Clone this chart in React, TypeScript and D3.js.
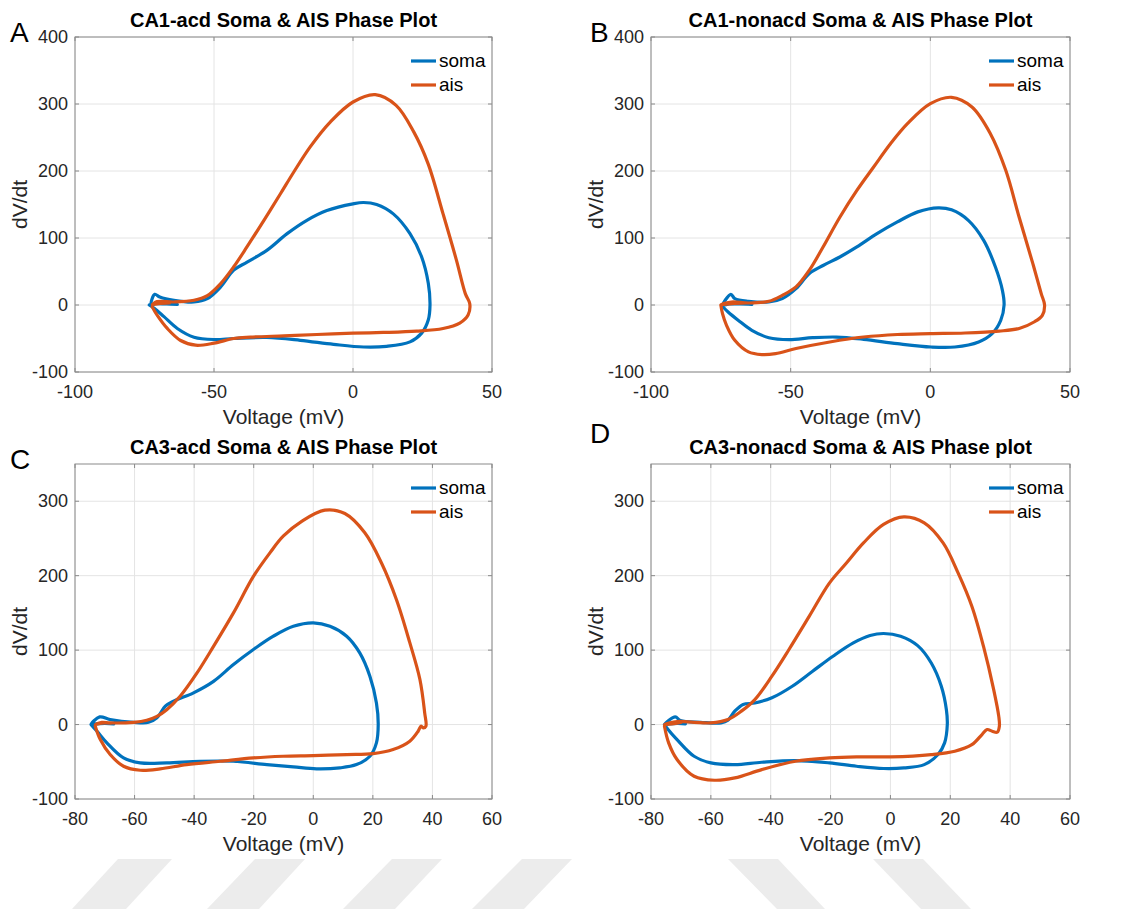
import React from 'react';
import * as d3 from 'd3';

// phase plots: [voltage (mV), dV/dt]
const ca1AcdSoma: [number, number][] = [
  [-63.2, 1], [-67, 1.5], [-71, 2], [-72.6, 1], [-71.3, 16], [-69.5, 12], [-64.4, 7], [-57.2, 4.5],
  [-52.4, 9.5], [-47.6, 27], [-42.9, 52], [-38.1, 64], [-31, 81.6], [-23.7, 106.5], [-16.6, 126.4],
  [-9.4, 141], [0, 151], [3.8, 153], [8.5, 150], [14.5, 136], [20.5, 106.5], [24.7, 71.6], [27.1, 32],
  [27.7, 0], [27.1, -22], [24.7, -42], [20.5, -55], [12.1, -61.7], [3.8, -62.7], [-7, -58.7],
  [-19, -52.7], [-31, -48.5], [-42.9, -50], [-50, -51.5], [-57.2, -48], [-63.2, -35], [-68, -17.4],
  [-71.5, -5], [-73.3, 0],
];
const ca1AcdAis: [number, number][] = [
  [-66, 3], [-70, 2], [-72.2, 0.5], [-70.5, 5], [-64.4, 4.5], [-57.2, 7], [-52.4, 14], [-47.6, 32],
  [-42.9, 57], [-38.1, 87], [-32.1, 126], [-26.1, 166], [-21.3, 198.5], [-15.4, 236], [-8.2, 273],
  [0, 303], [8, 314], [15.5, 298], [21.9, 258], [27, 211], [32.4, 136], [37.2, 67], [40.4, 17],
  [42, 2], [41.4, -15], [38.4, -27], [32.4, -35], [22.9, -39], [10.9, -41], [0, -42], [-13, -44],
  [-24.9, -46], [-36.9, -48], [-42.9, -50], [-50, -57], [-56.6, -60], [-62, -53], [-66.8, -35],
  [-70.4, -15.5], [-72.2, -3],
];
const ca1NonacdSoma: [number, number][] = [
  [-63.9, 1], [-68, 1.5], [-72, 1.5], [-74.2, 0], [-71.4, 16], [-70, 9.5], [-65.1, 5.5], [-57.8, 4.5],
  [-53, 9.5], [-48.1, 24.4], [-43.3, 47], [-38.4, 59], [-32.4, 71.6], [-26.3, 86.6], [-19.1, 106.5],
  [-11.8, 124], [-4.5, 139], [2.8, 145], [7.6, 142], [13.7, 126], [19.1, 96.5], [23.3, 56.7],
  [25.8, 21.9], [26.4, 0], [25.2, -22.9], [22.1, -42.8], [17.3, -55.2], [8.8, -62.7], [0.3, -62.7],
  [-11.8, -57.7], [-23.9, -51.2], [-33.6, -47.8], [-42.1, -48.8], [-50.6, -51.7], [-57.8, -48.8],
  [-63.9, -37.8], [-68.7, -23], [-72.4, -10.4], [-74.2, -3],
];
const ca1NonacdAis: [number, number][] = [
  [-66, 3], [-71, 2], [-75, 0.5], [-71.2, 4.5], [-65.1, 3], [-57.8, 5.5], [-53, 14.4], [-48.1, 27],
  [-43.3, 52], [-38.4, 86.6], [-32.4, 131], [-26.3, 171], [-20.3, 206], [-14.2, 241], [-8.2, 270.6],
  [0, 300.5], [7.6, 310], [14.9, 295.5], [21.5, 255.7], [27, 201], [31.8, 131], [36.7, 61.7],
  [39.7, 17], [40.9, 0], [40.1, -15.4], [37.3, -25], [31.8, -35], [24.6, -39], [12.4, -41.8],
  [0, -42.8], [-11.8, -44], [-23.9, -47.8], [-36, -55.2], [-48.1, -65], [-55.4, -72.6], [-60.3, -74],
  [-65.1, -70], [-70, -52.7], [-73, -30], [-74.4, -13], [-75, 0],
];
const ca3AcdSoma: [number, number][] = [
  [-67, 1], [-70, 1.5], [-73, 1], [-74.6, 0], [-71.7, 10.3], [-68.2, 6.7], [-60.3, 3], [-55.3, 3],
  [-52.5, 9], [-49.7, 24.6], [-46.9, 31.4], [-40.2, 42.6], [-33.5, 58], [-26.8, 80.6], [-20.1, 100.8],
  [-13.4, 118.7], [-6.7, 132], [0, 136.6], [5.6, 132], [11.2, 118.7], [15.6, 96.3], [19, 65],
  [21.2, 29], [21.8, 0], [21.2, -24.6], [19, -42.6], [14.5, -53.8], [8.9, -58.2], [1.1, -59.6],
  [-6.7, -56.9], [-15.6, -53.8], [-26.8, -49.3], [-38, -49.3], [-49.2, -51.5], [-58.1, -51.5],
  [-63.7, -44.8], [-69.3, -24.6], [-72.6, -9], [-74.6, 0],
];
const ca3AcdAis: [number, number][] = [
  [-68, 2], [-71, 2], [-73.2, 0], [-71, 3], [-68.2, 2.2], [-60.3, 3], [-55.9, 5.8], [-52.5, 11],
  [-49.2, 20], [-44.7, 38], [-39.1, 69], [-33.5, 105], [-26.8, 150], [-20.1, 199], [-14.5, 231],
  [-10.1, 253], [-3.9, 273], [3.9, 288], [10.6, 283.5], [17.3, 257.6], [22.9, 217], [27.9, 168],
  [32.4, 110], [35.8, 60.5], [37.4, 15.7], [37.8, -2.2], [36.9, -4.5], [36.2, -2], [35.2, -9],
  [32.4, -22.4], [26.8, -33.6], [20.1, -39], [11.2, -40.3], [0, -41.7], [-10.1, -42.6], [-20.1, -44.8],
  [-31.3, -49.3], [-42.5, -53.8], [-51.4, -59.6], [-58.1, -61.4], [-63.7, -56], [-68.2, -40.3],
  [-71.5, -20.2], [-73.2, -2.2],
];
const ca3NonacdSoma: [number, number][] = [
  [-68.5, 1], [-71, 1.5], [-74, 1], [-75.5, 0], [-71.9, 10.3], [-70.2, 5.4], [-63.4, 3], [-56.6, 2.2],
  [-54.3, 5.8], [-52, 18], [-49.2, 27], [-45.3, 29], [-39.6, 36], [-32.8, 51.5], [-26, 71.7],
  [-19.2, 91.8], [-12.4, 109.7], [-6.8, 119.6], [-2.3, 122.3], [3.4, 118.7], [9.1, 106], [13.6, 83],
  [17, 51.5], [18.7, 20], [19, 0], [18.1, -24.6], [15.9, -40.3], [11.3, -53.8], [4.5, -58.2],
  [-2.3, -59], [-11.3, -56], [-20.4, -51.5], [-31.7, -48.4], [-43, -50.6], [-52, -53.8], [-60, -51.5],
  [-65.6, -42.6], [-71.3, -20.2], [-74.7, -4.5], [-75.5, 0],
];
const ca3NonacdAis: [number, number][] = [
  [-70, 3], [-73, 1], [-75.5, 0], [-71.3, 4], [-65.6, 3], [-60, 2.2], [-54.3, 6.7], [-49.8, 18],
  [-45.3, 33.6], [-39.6, 65], [-33.9, 100.8], [-27.1, 145.6], [-20.4, 190], [-14.7, 217], [-9, 244],
  [-2.3, 268.8], [4.5, 279], [11.3, 271], [17.6, 244], [22.6, 203.8], [27.2, 159], [31.1, 105],
  [34.5, 47], [36.2, 11], [36.4, -2.2], [35.7, -10.3], [34, -9], [32.3, -6.7], [30.6, -13.4],
  [27.2, -27], [21.5, -35.8], [13.6, -40.3], [0.2, -43.4], [-11.3, -43.4], [-20.4, -44.8],
  [-31.7, -49.3], [-43, -60.5], [-52, -71.7], [-58.8, -74.8], [-65.6, -69.4], [-71.3, -47],
  [-74.1, -24.6], [-75.5, -2.2],
];

const ca1VoltTicks = [-100, -50, 0, 50];
const ca3VoltTicks = [-80, -60, -40, -20, 0, 20, 40, 60];
const ca1DvdtTicks = [-100, 0, 100, 200, 300, 400];
const ca3DvdtTicks = [-100, 0, 100, 200, 300];
const seriesNames = ['soma', 'ais'];

const SOMA = '#0072BD';
const AIS = '#D95319';
const FONT = '"Liberation Sans", Arial, Helvetica, sans-serif';

// light watermark stripes at the bottom of the page: [topLeft, topRight, bottomLeft, bottomRight]
const stripes = [
  [118, 172, 72, 126], [255, 305, 207, 259], [392, 442, 343, 395], [522, 572, 472, 524],
  [728, 778, 777, 825], [873, 923, 921, 971],
];

const panels = [
  { letter: 'A', lx: 10, ly: 42, title: 'CA1-acd Soma & AIS Phase Plot', soma: ca1AcdSoma, ais: ca1AcdAis,
    xd: [-100, 50], xt: ca1VoltTicks, yd: [-100, 400], yt: ca1DvdtTicks, l: 75, r: 492, t: 37, b: 372 },
  { letter: 'B', lx: 590, ly: 42, title: 'CA1-nonacd Soma & AIS Phase Plot', soma: ca1NonacdSoma, ais: ca1NonacdAis,
    xd: [-100, 50], xt: ca1VoltTicks, yd: [-100, 400], yt: ca1DvdtTicks, l: 651, r: 1070, t: 37, b: 372 },
  { letter: 'C', lx: 10, ly: 469, title: 'CA3-acd Soma & AIS Phase Plot', soma: ca3AcdSoma, ais: ca3AcdAis,
    xd: [-80, 60], xt: ca3VoltTicks, yd: [-100, 350], yt: ca3DvdtTicks, l: 75, r: 492, t: 464, b: 799 },
  { letter: 'D', lx: 590, ly: 443, title: 'CA3-nonacd Soma & AIS Phase plot', soma: ca3NonacdSoma, ais: ca3NonacdAis,
    xd: [-80, 60], xt: ca3VoltTicks, yd: [-100, 350], yt: ca3DvdtTicks, l: 651, r: 1070, t: 464, b: 799 },
];

function Panel({ p }: { p: any }) {
  const x = d3.scaleLinear().domain(p.xd).range([p.l, p.r]);
  const y = d3.scaleLinear().domain(p.yd).range([p.b, p.t]);
  const line = d3.line<[number, number]>()
    .x(d => x(d[0]))
    .y(d => y(d[1]))
    .curve(d3.curveCatmullRom.alpha(0.5));
  const cx = (p.l + p.r) / 2;
  const cy = (p.t + p.b) / 2;
  const tk = 4;

  return (
    <g fontFamily={FONT}>
      <text x={p.lx} y={p.ly} fontSize={28} fill="#000">{p.letter}</text>
      <text x={cx} y={p.t - 10} textAnchor="middle" fontSize={20} fontWeight="bold" fill="#000">{p.title}</text>

      {p.xt.map((v: number) => (
        <line key={'gx' + v} x1={x(v)} x2={x(v)} y1={p.t} y2={p.b} stroke="#e4e4e4" />
      ))}
      {p.yt.map((v: number) => (
        <line key={'gy' + v} x1={p.l} x2={p.r} y1={y(v)} y2={y(v)} stroke="#e4e4e4" />
      ))}

      <path d={line(p.soma) || ''} fill="none" stroke={SOMA} strokeWidth={3.2} strokeLinejoin="round" strokeLinecap="round" />
      <path d={line(p.ais) || ''} fill="none" stroke={AIS} strokeWidth={3.2} strokeLinejoin="round" strokeLinecap="round" />

      <rect x={p.l} y={p.t} width={p.r - p.l} height={p.b - p.t} fill="none" stroke="#8a8a8a" />
      {p.xt.map((v: number) => (
        <g key={'tx' + v}>
          <line x1={x(v)} x2={x(v)} y1={p.b} y2={p.b - tk} stroke="#8a8a8a" />
          <line x1={x(v)} x2={x(v)} y1={p.t} y2={p.t + tk} stroke="#8a8a8a" />
          <text x={x(v)} y={p.b + 26} textAnchor="middle" fontSize={18} fill="#262626">{v}</text>
        </g>
      ))}
      {p.yt.map((v: number) => (
        <g key={'ty' + v}>
          <line x1={p.l} x2={p.l + tk} y1={y(v)} y2={y(v)} stroke="#8a8a8a" />
          <line x1={p.r} x2={p.r - tk} y1={y(v)} y2={y(v)} stroke="#8a8a8a" />
          <text x={p.l - 7} y={y(v) + 6} textAnchor="end" fontSize={18} fill="#262626">{v}</text>
        </g>
      ))}

      <text x={cx} y={p.b + 52} textAnchor="middle" fontSize={21} fill="#262626">Voltage (mV)</text>
      <text transform={`translate(${p.l - 48},${cy}) rotate(-90)`} textAnchor="middle" fontSize={21} fill="#262626">dV/dt</text>

      {seriesNames.map((name, i) => (
        <g key={name}>
          <line x1={p.r - 81} x2={p.r - 56} y1={p.t + 24 + i * 24} y2={p.t + 24 + i * 24}
            stroke={i === 0 ? SOMA : AIS} strokeWidth={3.2} />
          <text x={p.r - 53} y={p.t + 30 + i * 24} fontSize={19} fill="#000">{name}</text>
        </g>
      ))}
    </g>
  );
}

export default function App() {
  return (
    <svg width={1127} height={909} style={{ position: 'absolute', left: 0, top: 0, background: '#fff' }}>
      <rect width={1127} height={909} fill="#fff" />
      {stripes.map((s, i) => (
        <polygon key={i} points={`${s[0]},859 ${s[1]},859 ${s[3]},909 ${s[2]},909`} fill="#ececec" />
      ))}
      {panels.map(p => <Panel key={p.letter} p={p} />)}
    </svg>
  );
}
